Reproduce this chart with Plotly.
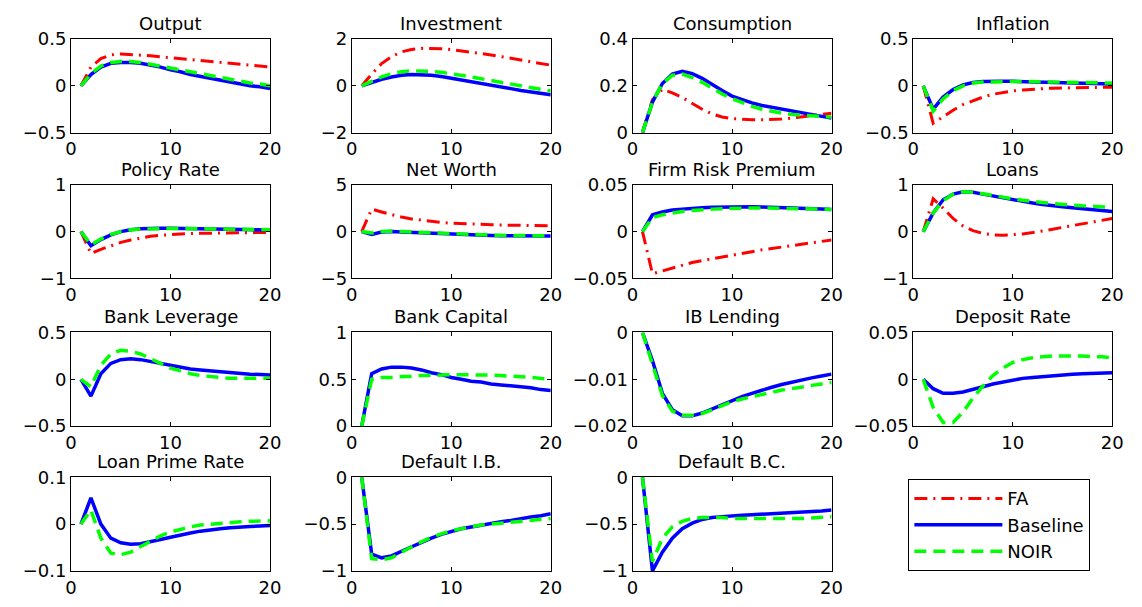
import plotly.graph_objects as go

periods = [1, 2, 3, 4, 5, 6, 7, 8, 9, 10, 11, 12, 13, 14, 15, 16, 17, 18, 19, 20]
series_names = ["FA", "Baseline", "NOIR"]
x_ticks = [0, 10, 20]

titles = ["Output", "Investment", "Consumption", "Inflation",
          "Policy Rate", "Net Worth", "Firm Risk Premium", "Loans",
          "Bank Leverage", "Bank Capital", "IB Lending", "Deposit Rate",
          "Loan Prime Rate", "Default I.B.", "Default B.C."]

y_ticks = [
    [-0.5, 0, 0.5], [-2, 0, 2], [0, 0.2, 0.4], [-0.5, 0, 0.5],
    [-1, 0, 1], [-5, 0, 5], [-0.05, 0, 0.05], [-1, 0, 1],
    [-0.5, 0, 0.5], [0, 0.5, 1], [-0.02, -0.01, 0], [-0.05, 0, 0.05],
    [-0.1, 0, 0.1], [-1, -0.5, 0], [-1, -0.5, 0],
]

# ---- Output
output_fa = [0, 0.2, 0.29, 0.33, 0.34, 0.335, 0.33, 0.32, 0.31, 0.3, 0.29, 0.28, 0.27, 0.26, 0.25, 0.24, 0.23, 0.22, 0.21, 0.2]
output_base = [0, 0.12, 0.2, 0.24, 0.25, 0.25, 0.24, 0.22, 0.2, 0.17, 0.15, 0.12, 0.1, 0.08, 0.06, 0.04, 0.02, 0.0, -0.01, -0.03]
output_noir = [0, 0.13, 0.21, 0.25, 0.26, 0.26, 0.25, 0.23, 0.21, 0.19, 0.17, 0.15, 0.13, 0.11, 0.09, 0.07, 0.05, 0.03, 0.02, 0.0]
# ---- Investment
invest_fa = [0, 0.5, 0.95, 1.25, 1.45, 1.55, 1.6, 1.6, 1.58, 1.55, 1.5, 1.45, 1.38, 1.32, 1.25, 1.18, 1.1, 1.02, 0.95, 0.88]
invest_base = [0, 0.15, 0.28, 0.38, 0.45, 0.48, 0.48, 0.45, 0.4, 0.33, 0.25, 0.17, 0.09, 0.02, -0.05, -0.12, -0.2, -0.27, -0.33, -0.38]
invest_noir = [0, 0.2, 0.38, 0.52, 0.6, 0.64, 0.64, 0.62, 0.58, 0.52, 0.45, 0.38, 0.3, 0.22, 0.14, 0.07, 0.0, -0.08, -0.15, -0.22]
# ---- Consumption
cons_fa = [0, 0.14, 0.185, 0.17, 0.15, 0.125, 0.1, 0.08, 0.067, 0.06, 0.057, 0.055, 0.055, 0.056, 0.058, 0.062, 0.067, 0.072, 0.078, 0.083]
cons_base = [0, 0.13, 0.21, 0.25, 0.262, 0.252, 0.232, 0.205, 0.18, 0.156, 0.14, 0.127, 0.116, 0.108, 0.1, 0.092, 0.085, 0.077, 0.07, 0.062]
cons_noir = [0, 0.13, 0.21, 0.245, 0.25, 0.235, 0.215, 0.19, 0.165, 0.145, 0.127, 0.112, 0.1, 0.09, 0.083, 0.078, 0.074, 0.071, 0.069, 0.067]
# ---- Inflation
infl_fa = [0, -0.4, -0.33, -0.26, -0.2, -0.16, -0.12, -0.09, -0.07, -0.055, -0.045, -0.035, -0.03, -0.025, -0.022, -0.02, -0.018, -0.017, -0.016, -0.015]
infl_base = [0, -0.25, -0.12, -0.04, 0.01, 0.035, 0.045, 0.05, 0.05, 0.048, 0.045, 0.042, 0.038, 0.035, 0.032, 0.03, 0.027, 0.025, 0.022, 0.02]
infl_noir = [0, -0.27, -0.14, -0.05, 0.0, 0.03, 0.04, 0.045, 0.047, 0.047, 0.046, 0.045, 0.043, 0.042, 0.04, 0.038, 0.036, 0.034, 0.032, 0.03]
# ---- Policy Rate
policy_fa = [0, -0.47, -0.38, -0.3, -0.23, -0.18, -0.14, -0.1, -0.08, -0.06, -0.05, -0.04, -0.035, -0.03, -0.028, -0.025, -0.023, -0.022, -0.02, -0.02]
policy_base = [0, -0.3, -0.17, -0.07, 0.0, 0.04, 0.06, 0.07, 0.07, 0.07, 0.065, 0.06, 0.055, 0.05, 0.048, 0.045, 0.042, 0.04, 0.038, 0.035]
policy_noir = [0, -0.28, -0.16, -0.06, 0.0, 0.04, 0.055, 0.065, 0.068, 0.068, 0.065, 0.062, 0.058, 0.055, 0.052, 0.05, 0.048, 0.046, 0.044, 0.042]
# ---- Net Worth
networth_fa = [0, 2.4, 2.1, 1.8, 1.55, 1.35, 1.2, 1.08, 0.98, 0.9, 0.84, 0.8, 0.76, 0.73, 0.7, 0.68, 0.66, 0.65, 0.63, 0.62]
networth_base = [0, -0.3, -0.05, 0.0, -0.05, -0.1, -0.15, -0.2, -0.25, -0.3, -0.35, -0.38, -0.4, -0.42, -0.44, -0.45, -0.46, -0.47, -0.48, -0.48]
networth_noir = [0, -0.15, 0.0, 0.05, 0.0, -0.05, -0.1, -0.15, -0.2, -0.25, -0.3, -0.33, -0.36, -0.38, -0.4, -0.42, -0.43, -0.44, -0.45, -0.45]
# ---- Firm Risk Premium
frp_fa = [0, -0.045, -0.042, -0.039, -0.036, -0.033, -0.031, -0.029, -0.027, -0.025, -0.023, -0.021, -0.0195, -0.018, -0.0165, -0.015, -0.0135, -0.012, -0.0105, -0.009]
frp_base = [0, 0.018, 0.021, 0.023, 0.024, 0.025, 0.0255, 0.026, 0.0263, 0.0265, 0.0265, 0.0264, 0.0262, 0.026, 0.0257, 0.0254, 0.025, 0.0246, 0.0242, 0.0235]
frp_noir = [0, 0.015, 0.018, 0.02, 0.0215, 0.0225, 0.0235, 0.024, 0.0245, 0.025, 0.0252, 0.0253, 0.0253, 0.0252, 0.025, 0.0248, 0.0245, 0.0242, 0.024, 0.0235]
# ---- Loans
loans_fa = [0, 0.7, 0.5, 0.28, 0.12, 0.02, -0.04, -0.07, -0.08, -0.07, -0.05, -0.02, 0.01, 0.05, 0.09, 0.13, 0.17, 0.21, 0.25, 0.28]
loans_base = [0, 0.4, 0.68, 0.8, 0.85, 0.84, 0.8, 0.76, 0.72, 0.68, 0.64, 0.61, 0.58, 0.55, 0.53, 0.51, 0.49, 0.47, 0.45, 0.43]
loans_noir = [0, 0.4, 0.66, 0.8, 0.85, 0.84, 0.81, 0.77, 0.73, 0.7, 0.67, 0.64, 0.62, 0.6, 0.58, 0.56, 0.55, 0.54, 0.53, 0.52]
# ---- Bank Leverage
lev_base = [0, -0.18, 0.06, 0.17, 0.21, 0.22, 0.21, 0.19, 0.17, 0.15, 0.13, 0.11, 0.1, 0.09, 0.08, 0.07, 0.06, 0.055, 0.05, 0.045]
lev_noir = [0, -0.08, 0.15, 0.27, 0.31, 0.3, 0.27, 0.22, 0.17, 0.12, 0.09, 0.06, 0.04, 0.03, 0.02, 0.01, 0.01, 0.01, 0.01, 0.01]
# ---- Bank Capital
bcap_base = [0, 0.56, 0.61, 0.63, 0.63, 0.62, 0.6, 0.57, 0.55, 0.52, 0.5, 0.48, 0.47, 0.45, 0.44, 0.43, 0.42, 0.41, 0.39, 0.38]
bcap_noir = [0, 0.5, 0.52, 0.52, 0.53, 0.53, 0.54, 0.54, 0.545, 0.55, 0.55, 0.55, 0.55, 0.545, 0.54, 0.535, 0.53, 0.52, 0.51, 0.5]
# ---- IB Lending
ibl_base = [0, -0.006, -0.013, -0.0165, -0.0178, -0.0178, -0.0172, -0.0163, -0.0154, -0.0145, -0.0137, -0.013, -0.0123, -0.0117, -0.0111, -0.0106, -0.0101, -0.0097, -0.0093, -0.0089]
ibl_noir = [0, -0.0065, -0.0135, -0.0168, -0.0177, -0.0177, -0.0173, -0.0165, -0.0156, -0.0148, -0.0142, -0.0137, -0.0132, -0.0127, -0.0123, -0.012, -0.0116, -0.0113, -0.011, -0.0107]
# ---- Deposit Rate
dep_base = [0, -0.01, -0.015, -0.015, -0.0135, -0.011, -0.008, -0.005, -0.003, -0.001, 0.001, 0.002, 0.003, 0.004, 0.005, 0.0055, 0.006, 0.0065, 0.007, 0.007]
dep_noir = [0, -0.03, -0.046, -0.046, -0.035, -0.02, -0.007, 0.004, 0.012, 0.018, 0.021, 0.023, 0.024, 0.025, 0.025, 0.025, 0.025, 0.024, 0.024, 0.023]
# ---- Loan Prime Rate
lpr_base = [0, 0.056, 0.0, -0.03, -0.04, -0.043, -0.042, -0.038, -0.033, -0.028, -0.023, -0.019, -0.015, -0.012, -0.01, -0.008, -0.006, -0.005, -0.004, -0.003]
lpr_noir = [0, 0.03, -0.03, -0.062, -0.065, -0.06, -0.048, -0.036, -0.025, -0.017, -0.011, -0.006, -0.002, 0.0, 0.002, 0.004, 0.005, 0.006, 0.007, 0.007]
# ---- Default I.B.
dib_base = [0, -0.82, -0.86, -0.84, -0.79, -0.74, -0.69, -0.65, -0.61, -0.58, -0.55, -0.53, -0.51, -0.49, -0.475, -0.46, -0.44, -0.425, -0.41, -0.39]
dib_noir = [0, -0.87, -0.88, -0.86, -0.8, -0.74, -0.69, -0.64, -0.6, -0.57, -0.55, -0.53, -0.51, -0.5, -0.49, -0.48, -0.47, -0.46, -0.45, -0.44]
# ---- Default B.C.
dbc_base = [0, -1.0, -0.8, -0.65, -0.55, -0.49, -0.45, -0.43, -0.42, -0.41, -0.405, -0.4, -0.395, -0.39, -0.385, -0.38, -0.375, -0.37, -0.36, -0.35]
dbc_noir = [0, -0.9, -0.65, -0.53, -0.47, -0.44, -0.43, -0.43, -0.43, -0.44, -0.44, -0.445, -0.445, -0.445, -0.445, -0.44, -0.44, -0.435, -0.43, -0.42]

panels = [
    (output_fa, output_base, output_noir),
    (invest_fa, invest_base, invest_noir),
    (cons_fa, cons_base, cons_noir),
    (infl_fa, infl_base, infl_noir),
    (policy_fa, policy_base, policy_noir),
    (networth_fa, networth_base, networth_noir),
    (frp_fa, frp_base, frp_noir),
    (loans_fa, loans_base, loans_noir),
    (None, lev_base, lev_noir),
    (None, bcap_base, bcap_noir),
    (None, ibl_base, ibl_noir),
    (None, dep_base, dep_noir),
    (None, lpr_base, lpr_noir),
    (None, dib_base, dib_noir),
    (None, dbc_base, dbc_noir),
]

W, H = 1142, 607
col_left = [66, 351, 636, 921]
row_top = [29, 180, 333, 483]
pw, ph = 202, 97

styles = [
    dict(color="rgb(255,0,0)", width=3, dash="13px,6px,2px,6px"),
    dict(color="rgb(0,0,255)", width=3.5, dash="solid"),
    dict(color="rgb(0,255,0)", width=3.5, dash="12px,7px"),
]

FONT = "DejaVu Sans"
fig = go.Figure()
annotations = []

for i, (title, data, yt) in enumerate(zip(titles, panels, y_ticks)):
    r, c = divmod(i, 4)
    n = i + 1
    xa = "x" if n == 1 else f"x{n}"
    ya = "y" if n == 1 else f"y{n}"
    for k, series in enumerate(data):
        if series is None:
            continue
        fig.add_trace(go.Scatter(
            x=periods, y=series, mode="lines", name=series_names[k],
            line=styles[k], xaxis=xa, yaxis=ya,
            showlegend=(i == 0), legendrank=k + 1,
        ))
    x0 = col_left[c] / W
    x1 = (col_left[c] + pw) / W
    y1 = 1 - row_top[r] / H
    y0 = 1 - (row_top[r] + ph) / H
    axis_common = dict(
        showline=True, linecolor="black", linewidth=1, mirror="ticks",
        ticks="inside", ticklen=4, tickcolor="black", tickwidth=1,
        showgrid=False, zeroline=False,
        tickfont=dict(family=FONT, size=18, color="black"),
    )
    fig.layout[f"xaxis{'' if n == 1 else n}"] = dict(
        domain=[x0, x1], anchor=ya, range=[0, 20], tickvals=x_ticks, **axis_common)
    fig.layout[f"yaxis{'' if n == 1 else n}"] = dict(
        domain=[y0, y1], anchor=xa, range=[yt[0], yt[2]], tickvals=yt, **axis_common)
    annotations.append(dict(
        text=title, x=(x0 + x1) / 2, y=y1, xref="paper", yref="paper",
        xanchor="center", yanchor="bottom", yshift=3, showarrow=False,
        font=dict(family=FONT, size=18, color="black"),
    ))

fig.update_layout(
    width=W, height=H,
    margin=dict(l=0, r=0, t=0, b=0),
    paper_bgcolor="white", plot_bgcolor="white",
    annotations=annotations,
    showlegend=True,
    legend=dict(
        x=916 / W, y=1 - 485 / H, xanchor="left", yanchor="top",
        bordercolor="black", borderwidth=1, bgcolor="white",
        font=dict(family=FONT, size=18, color="black"),
        itemwidth=88, tracegroupgap=0,
    ),
)

fig.write_html("out.html")
